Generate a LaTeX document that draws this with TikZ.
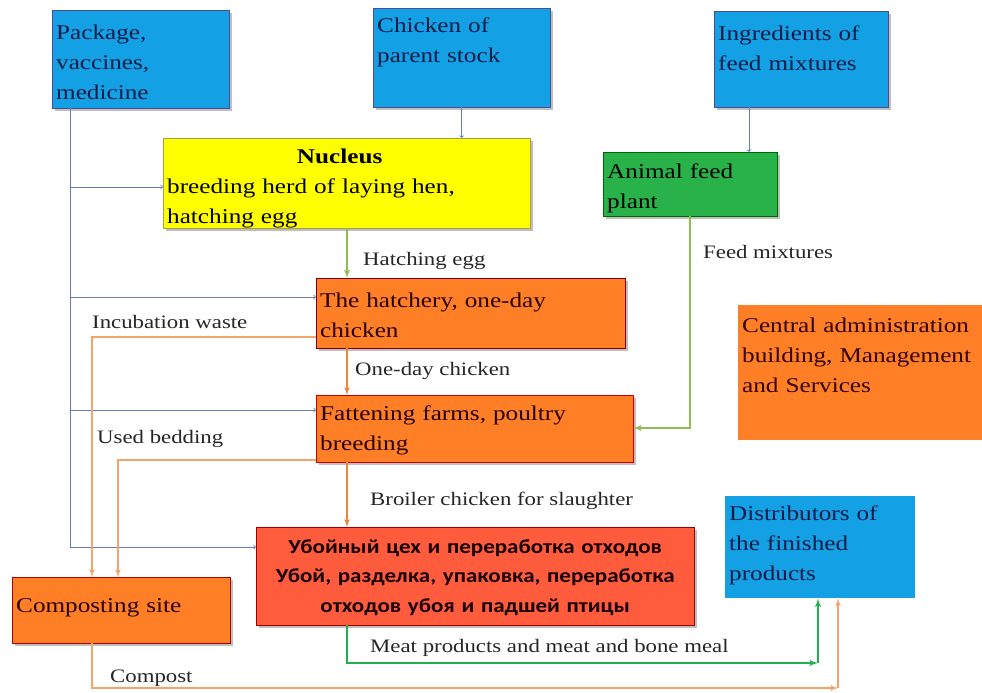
\documentclass[tikz,border=0pt]{standalone}
\usepackage{fontspec}
\setmainfont[FakeStretch=1.2]{Liberation Serif}
\newfontfamily\rufont[FakeStretch=1.15]{Carlito}
\usetikzlibrary{shapes,arrows,shadows}

\definecolor{boxblue}{RGB}{20,160,228}
\definecolor{boxyellow}{RGB}{255,255,0}
\definecolor{boxgreen}{RGB}{42,178,74}
\definecolor{boxorange}{RGB}{255,127,39}
\definecolor{boxred}{RGB}{255,92,62}
\definecolor{textnavy}{RGB}{12,28,72}
\definecolor{lineblue}{RGB}{100,125,190}
\definecolor{linegreen}{RGB}{140,190,80}
\definecolor{meatgreen}{RGB}{34,176,80}
\definecolor{lineorange}{RGB}{243,165,105}
\definecolor{chainorange}{RGB}{232,135,60}

\begin{document}
\begin{tikzpicture}[x=1pt, y=-1pt,
    block_blue/.style ={rectangle, draw=blue!40!black!70, fill=boxblue, text=textnavy,
      anchor=north west, align=left, inner xsep=4pt, inner ysep=3pt,
      font=\fontsize{21}{30}\selectfont,
      drop shadow={shadow xshift=2.5pt, shadow yshift=-2.5pt, opacity=0.5}},
    block_yellow/.style ={block_blue, draw=yellow!60!black, fill=boxyellow, text=black},
    block_green/.style ={block_blue, draw=green!40!black, fill=boxgreen, text=black},
    block_orange/.style ={block_blue, draw=red!50!black, fill=boxorange, text=black!85!red},
    block_red/.style ={block_blue, draw=red!60!black, fill=boxred, text=black!90!red,
      align=center, font=\rufont\bfseries\fontsize{20}{29.5}\selectfont},
    block_plain/.style ={rectangle, draw=none, anchor=north west, align=left,
      inner xsep=4pt, inner ysep=3pt, font=\fontsize{21}{30}\selectfont},
    flow_label/.style ={anchor=base west, inner sep=0pt, text=black!85,
      font=\fontsize{19}{22}\selectfont},
    line_blue/.style ={draw=lineblue, thick, -to},
    line_green/.style ={draw=linegreen, line width=1.8pt, -latex'},
    line_meat/.style ={draw=meatgreen, line width=2pt, -latex'},
    line_chain/.style ={draw=chainorange, line width=1.6pt, -latex'},
    line_waste/.style ={draw=lineorange, line width=1.6pt, -latex'}]
    \useasboundingbox [fill=white] (0,0) rectangle (982,693);
    % suppliers - top row
    \node [block_blue, text width=169pt, text height=26pt, text depth=66pt] (package) at (52,10) {
      Package,\\ vaccines,\\ medicine};
    \node [block_blue, text width=169pt, text height=21pt, text depth=72pt] (parent) at (373,8) {
      Chicken of\\ parent stock};
    \node [block_blue, text width=166pt, text height=26pt, text depth=64pt] (ingredients) at (714,11) {
      Ingredients of\\ feed mixtures};
    % production chain
    \node [block_yellow, text width=359pt, text height=22pt, text depth=62pt] (nucleus) at (163,138) {
      \makebox[345pt]{\textbf{Nucleus}}\\ breeding herd of laying hen,\\ hatching egg};
    \node [block_green, text width=166pt, text height=23pt, text depth=35pt] (feed) at (603,152) {
      Animal feed\\ plant};
    \node [block_orange, text width=301pt, text height=26pt, text depth=38pt] (hatchery) at (316,278) {
      The hatchery, one-day\\ chicken};
    \node [block_orange, draw=red!80!black, text width=309pt, text height=22pt, text depth=39pt] (fattening) at (316,395) {
      Fattening farms, poultry\\ breeding};
    \node [block_plain, fill=boxorange, text=black!80!red, text width=238pt, text height=24pt, text depth=105pt] (admin) at (738,305) {
      Central administration\\ building, Management\\ and Services};
    \node [block_red, text width=430pt, text height=23pt, text depth=69pt] (slaughter) at (256,527) {
      Убойный цех и переработка отходов\\ Убой, разделка, упаковка, переработка\\ отходов убоя и падшей птицы};
    \node [block_plain, fill=boxblue, text=textnavy, text width=182pt, text height=21pt, text depth=75pt] (distributors) at (725,496) {
      Distributors of\\ the finished\\ products};
    \node [block_orange, draw=red!70!black, text width=210pt, text height=32pt, text depth=28pt] (compost) at (12,577) {
      Composting site};
    % guide points for the bent connectors
    \coordinate (bus) at (70,547);
    \coordinate (bus_nucleus) at (70,187);
    \coordinate (bus_hatchery) at (70,297);
    \coordinate (bus_fattening) at (70,410);
    \coordinate (chain) at (347,0);
    \coordinate (ingr_drop) at (749,0);
    \coordinate (feed_in) at (690,428);
    \coordinate (waste_out) at (92,337);
    \coordinate (bedding_out) at (118,460);
    \coordinate (meat_run) at (818,663);
    \coordinate (compost_run) at (838,688);
    % connecting nodes with paths
    \draw [draw=lineblue, thick] (package.south -| bus) -- (bus);
    \draw [line_blue] (bus) -- (bus -| slaughter.west);
    \draw [line_blue] (bus_nucleus) -- (bus_nucleus -| nucleus.west);
    \draw [line_blue] (bus_hatchery) -- (bus_hatchery -| hatchery.west);
    \draw [line_blue] (bus_fattening) -- (bus_fattening -| fattening.west);
    \draw [line_blue] (parent.south) -- (parent.south |- nucleus.north);
    \draw [line_blue] (ingredients.south -| ingr_drop) -- (feed.north -| ingr_drop);
    \draw [line_green] (nucleus.south -| chain) -- (hatchery.north -| chain);
    \draw [line_chain] (hatchery.south -| chain) -- (fattening.north -| chain);
    \draw [line_chain] (fattening.south -| chain) -- (slaughter.north -| chain);
    \draw [line_green] (feed.south) |- (feed_in -| fattening.east);
    \draw [line_waste] (waste_out -| hatchery.west) -| (compost.north -| waste_out);
    \draw [line_waste] (bedding_out -| fattening.west) -| (compost.north -| bedding_out);
    \draw [line_meat] (slaughter.south -| chain) |- (meat_run);
    \draw [line_meat] (meat_run) -- (meat_run |- distributors.south);
    \draw [line_waste] (compost.south -| waste_out) |- (compost_run);
    \draw [line_waste] (compost_run) -- (compost_run |- distributors.south);
    % flow labels
    \node [flow_label] (lbl_egg) at (363,265) {Hatching egg};
    \node [flow_label] (lbl_chick) at (355,375) {One-day chicken};
    \node [flow_label] (lbl_broiler) at (370,505) {Broiler chicken for slaughter};
    \node [flow_label] (lbl_feed) at (703,258) {Feed mixtures};
    \node [flow_label] (lbl_waste) at (92,328) {Incubation waste};
    \node [flow_label] (lbl_bedding) at (97,443) {Used bedding};
    \node [flow_label] (lbl_meat) at (370,652) {Meat products and meat and bone meal};
    \node [flow_label] (lbl_compost) at (110,682) {Compost};
\end{tikzpicture}
\end{document}
